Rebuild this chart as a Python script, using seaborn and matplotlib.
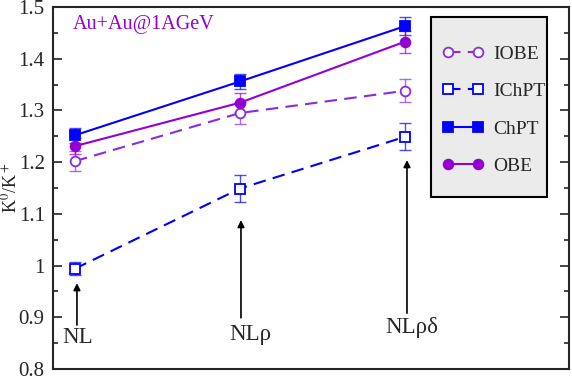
import numpy as np
import pandas as pd
import matplotlib
matplotlib.use("Agg")
import matplotlib.pyplot as plt
import matplotlib.patches as mpatches
import seaborn as sns

# ---------------- dados ----------------
modelos = ["NL", "NLρ", "NLρδ"]
x_pos = [1, 2, 3]

iobe = [1.202, 1.295, 1.338]
iobe_err = [0.020, 0.022, 0.022]
ichpt = [0.994, 1.149, 1.249]
ichpt_err = [0.013, 0.026, 0.026]
chpt = [1.252, 1.356, 1.463]
chpt_err = [0.015, 0.015, 0.018]
obe = [1.231, 1.315, 1.433]
obe_err = [0.016, 0.018, 0.021]

# setas: (x, y da ponta, y da cauda) e texto (x, y)
seta_x = [1.012, 2.006, 3.012]
seta_topo = [0.966, 1.088, 1.204]
seta_base = [0.885, 0.899, 0.908]
texto_x = [1.018, 2.06, 3.04]
texto_y = [0.860, 0.866, 0.881]

AZUL = "#0000ff"
ROXO = "#9400d3"
ROXO_I = "#8a2be2"

sns.set_style("ticks")
plt.rcParams["font.family"] = ["Liberation Serif", "DejaVu Serif"]
plt.rcParams["mathtext.fontset"] = "stix"

fig = plt.figure(figsize=(5.72, 3.77), dpi=100)
ax = fig.add_axes([0.0927, 0.0212, 0.9021, 0.9602])

series = [
    ("IOBE", iobe, iobe_err, ROXO_I, (0, (6, 3.5)), "o", "white"),
    ("IChPT", ichpt, ichpt_err, AZUL, (0, (6, 3.5)), "s", "white"),
    ("ChPT", chpt, chpt_err, AZUL, "-", "s", AZUL),
    ("OBE", obe, obe_err, ROXO, "-", "o", ROXO),
]

for nome, y, yerr, cor, ls, mk, face in series:
    ax.errorbar(x_pos, y, yerr=yerr, fmt="none", ecolor=cor, elinewidth=1.0,
                capsize=4, capthick=1.0, alpha=0.7, zorder=2)
    df = pd.DataFrame({"x": x_pos, "y": y})
    sns.lineplot(data=df, x="x", y="y", ax=ax, color=cor, linestyle=ls,
                 linewidth=1.5, marker=mk, markersize=7 if mk == "o" else 6.5,
                 markerfacecolor=face, markeredgecolor=cor, markeredgewidth=1.3,
                 label=nome, errorbar=None, legend=False, zorder=3)

# setas e textos
for xs, yt, yb, tx, ty, txt in zip(seta_x, seta_topo, seta_base, texto_x, texto_y, modelos):
    ax.annotate("", xy=(xs, yt), xytext=(xs, yb),
                arrowprops=dict(arrowstyle="-|>", color="black", lw=1.2,
                                mutation_scale=10, shrinkA=0, shrinkB=0))
    ax.text(tx, ty, txt, ha="center", va="center", fontsize=16.5)

ax.text(0.988, 1.466, "Au+Au@1AGeV", color=ROXO, fontsize=14.5, ha="left", va="center")

ax.set_xlim(0.867, 3.994)
ax.set_ylim(0.8, 1.5)
ax.set_xticks([])
ax.set_yticks([0.8, 0.9, 1.0, 1.1, 1.2, 1.3, 1.4, 1.5])
ax.set_yticklabels(["0.8", "0.9", "1", "1.1", "1.2", "1.3", "1.4", "1.5"])
ax.set_yticks(np.arange(0.85, 1.5, 0.1), minor=True)
ax.tick_params(axis="y", which="major", direction="in", length=6.5, width=1.2,
               right=True, labelsize=15, pad=6)
ax.tick_params(axis="y", which="minor", direction="in", length=3.5, width=1.2, right=True)
ax.set_xlabel("")
ax.set_ylabel(r"K$^0$/K$^+$", fontsize=13)
ax.yaxis.set_label_coords(-0.063, 0.5)
for s in ax.spines.values():
    s.set_visible(True)
    s.set_linewidth(1.5)

# caixa da legenda
caixa = mpatches.Rectangle((0.7326, 0.475), 0.2244, 0.4974, transform=ax.transAxes,
                           facecolor="#ebebeb", edgecolor="black", linewidth=1.5, zorder=4)
ax.add_patch(caixa)
leg = ax.legend(loc="upper left", bbox_to_anchor=(0.754, 0.895), numpoints=2,
                handlelength=2.15, handletextpad=0.5, labelspacing=1.02,
                borderpad=0, borderaxespad=0, fontsize=14, frameon=False)
leg.set_zorder(5)

plt.savefig("out.png", dpi=100)
